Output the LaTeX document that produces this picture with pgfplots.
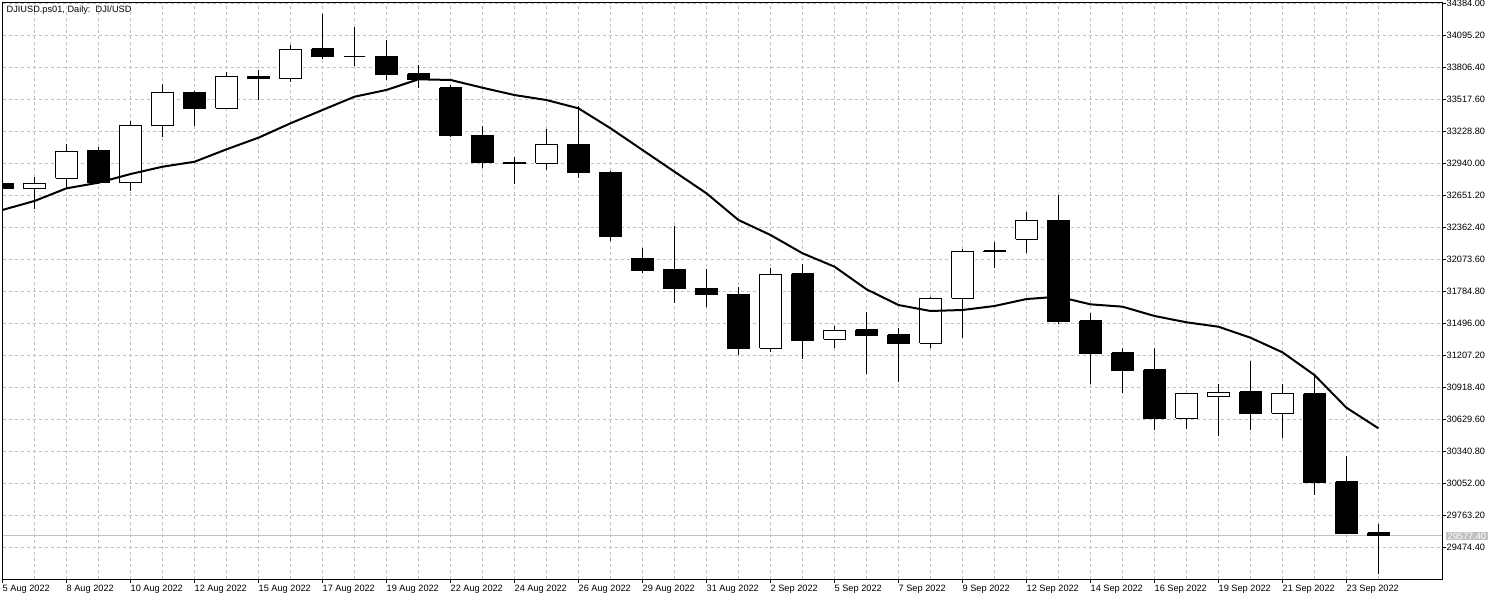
\documentclass[border=0pt]{standalone}
\usepackage{fontspec}
\setmainfont{Liberation Sans}
\usepackage{pgfplots}
\usepackage{pgfplotstable}
\pgfplotsset{compat=1.18}
\definecolor{gridgray}{RGB}{192,192,192}
\definecolor{pricegray}{RGB}{192,192,192}

\pgfplotstableread{
i o h l c
0 32762 32775 32700 32711
1 32711 32816 32530 32762
2 32805 33114 32714 33048
3 33057 33087 32750 32765
4 32765 33322 32693 33283
5 33279 33656 33175 33583
6 33583 33595 33279 33433
7 33436 33764 33430 33725
8 33725 33782 33511 33703
9 33703 34008 33676 33969
10 33972 34287 33881 33902
11 33906 34173 33821 33906
12 33908 34055 33692 33740
13 33746 33827 33622 33698
14 33620 33647 33180 33189
15 33195 33277 32900 32945
16 32950 33000 32753 32940
17 32940 33252 32882 33111
18 33114 33457 32810 32855
19 32861 32870 32241 32275
20 32085 32176 31947 31977
21 31986 32374 31679 31808
22 31812 31989 31640 31754
23 31760 31826 31210 31267
24 31270 31995 31240 31938
25 31941 32031 31177 31339
26 31352 31472 31276 31433
27 31436 31598 31038 31388
28 31393 31454 30969 31312
29 31315 31731 31276 31722
30 31722 32169 31366 32146
31 32150 32230 31998 32140
32 32254 32500 32133 32426
33 32426 32657 31492 31508
34 31517 31589 30948 31222
35 31228 31273 30864 31068
36 31075 31273 30533 30635
37 30639 30864 30545 30858
38 30834 30948 30479 30873
39 30876 31156 30533 30680
40 30684 30948 30464 30858
41 30858 31029 29946 30057
42 30064 30298 29592 29597
43 29605 29685 29233 29577
}\ohlc

\pgfplotstableread{
i ma
0 32519
1 32600
2 32714
3 32765
4 32843
5 32909
6 32954
7 33066
8 33171
9 33301
10 33421
11 33541
12 33602
13 33698
14 33692
15 33622
16 33556
17 33511
18 33436
19 33256
20 33060
21 32864
22 32669
23 32428
24 32293
25 32128
26 32007
27 31803
28 31661
29 31607
30 31616
31 31652
32 31715
33 31736
34 31667
35 31646
36 31562
37 31505
38 31465
39 31366
40 31234
41 31029
42 30734
43 30548
}\matable

\begin{document}
\begin{tikzpicture}[x=1pt,y=1pt]
\path[use as bounding box] (0,0) rectangle (1500,600);
\begin{axis}[
  at={(2.5pt,21pt)}, anchor=south west,
  scale only axis, width=1440pt, height=576.5pt,
  xmin=0, xmax=45, ymin=29188.3, ymax=34391.2,
  axis line style={line width=1pt, black},
  xtick={0,2,...,42},
  xticklabels={5 Aug 2022, 8 Aug 2022, 10 Aug 2022, 12 Aug 2022, 15 Aug 2022, 17 Aug 2022, 19 Aug 2022, 22 Aug 2022, 24 Aug 2022, 26 Aug 2022, 29 Aug 2022, 31 Aug 2022, 2 Sep 2022, 5 Sep 2022, 7 Sep 2022, 9 Sep 2022, 12 Sep 2022, 14 Sep 2022, 16 Sep 2022, 19 Sep 2022, 21 Sep 2022, 23 Sep 2022},
  minor xtick={1,3,...,45},
  ytick={29474.4,29763.2,30052,30340.8,30629.6,30918.4,31207.2,31496,31784.8,32073.6,32362.4,32651.2,32940,33228.8,33517.6,33806.4,34095.2,34384},
  yticklabels={29474.40,29763.20,30052.00,30340.80,30629.60,30918.40,31207.20,31496.00,31784.80,32073.60,32362.40,32651.20,32940.00,33228.80,33517.60,33806.40,34095.20,34384.00},
  xtick pos=left, ytick pos=right, yticklabel pos=right,
  tick align=outside,
  major tick length=4pt, minor tick length=0pt,
  tick style={black, line width=1pt},
  grid=both,
  major grid style={gridgray, dash pattern=on 3pt off 3pt, line width=1pt},
  minor grid style={gridgray, dash pattern=on 3pt off 3pt, line width=1pt},
  tick label style={font=\fontsize{9.2pt}{11pt}\selectfont, text=black},
  xticklabel style={anchor=north west, inner sep=0pt, yshift=-2pt},
  yticklabel style={anchor=west, inner sep=0pt},
]
\addplot[pricegray, line width=1pt, no marks] coordinates {(0,29577.4) (45,29577.4)};
\pgfplotsinvokeforeach{0,...,43}{
  \pgfplotstablegetelem{#1}{o}\of\ohlc \edef\O{\pgfplotsretval}
  \pgfplotstablegetelem{#1}{h}\of\ohlc \edef\H{\pgfplotsretval}
  \pgfplotstablegetelem{#1}{l}\of\ohlc \edef\L{\pgfplotsretval}
  \pgfplotstablegetelem{#1}{c}\of\ohlc \edef\C{\pgfplotsretval}
  \ifnum\C>\O\relax \def\F{white}\else \def\F{black}\fi
  \pgfmathsetmacro\xa{#1-0.33}
  \pgfmathsetmacro\xb{#1+0.33}
  \edef\tmp{%
    \noexpand\addplot[black, line width=1pt, no marks] coordinates {(#1,\L) (#1,\H)};
    \noexpand\addplot[draw=black, fill=\F, line width=1pt, line join=miter, no marks] coordinates {(\xa,\O) (\xb,\O) (\xb,\C) (\xa,\C) (\xa,\O)};
  }%
  \tmp
}
\addplot[black, line width=2pt, no marks] table[x=i, y=ma]{\matable};
\coordinate (pl) at (axis cs:45,29577.4);
\end{axis}
\node[fill=pricegray, text=white, anchor=west, inner xsep=2pt, inner ysep=1pt, font=\fontsize{9.2pt}{11pt}\selectfont] at ([xshift=3pt]pl) {29577.40};
\node[anchor=base west, inner sep=0pt, font=\fontsize{9.2pt}{11pt}\selectfont] at (6.5,587.3) {DJIUSD.ps01, Daily:\ \ DJI/USD};
\end{tikzpicture}
\end{document}
